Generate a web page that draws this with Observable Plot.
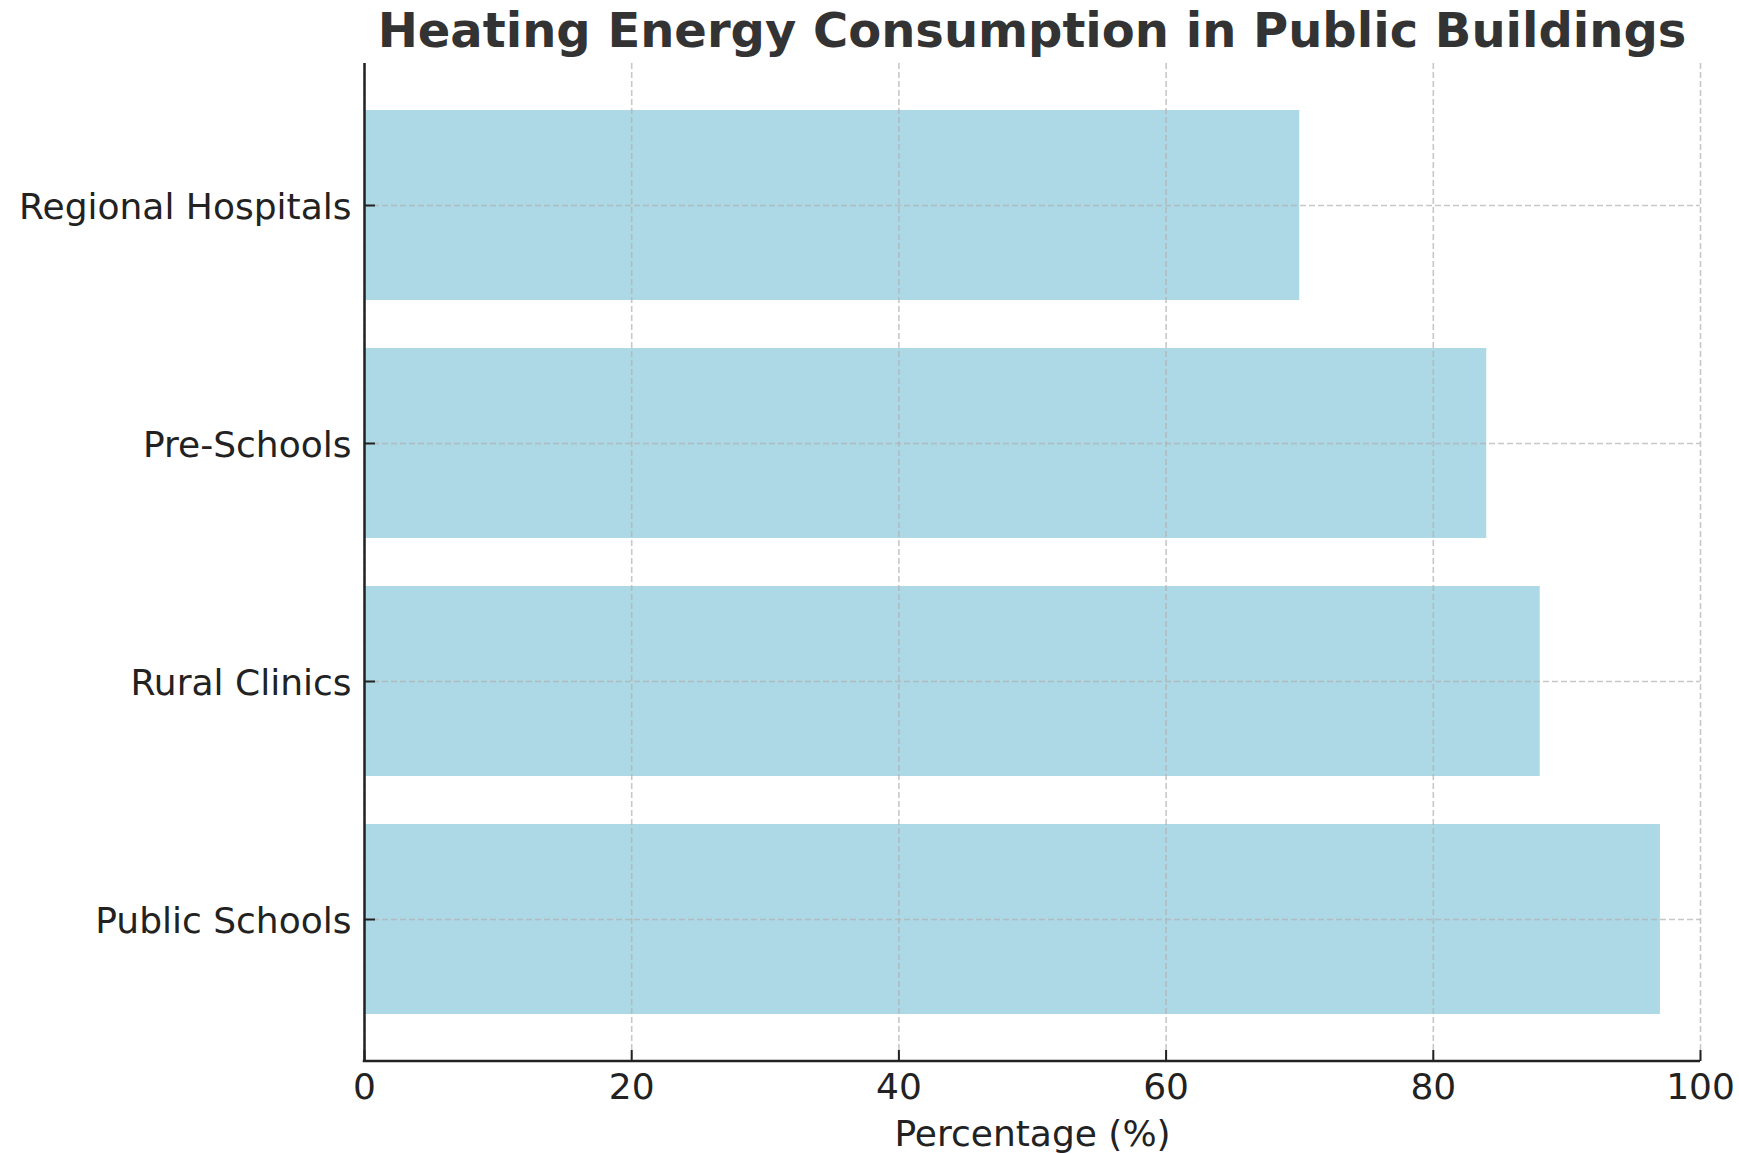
<!DOCTYPE html>
<html>
<head>
<meta charset="utf-8">
<script src="https://cdn.jsdelivr.net/npm/d3@7"></script>
<script src="https://cdn.jsdelivr.net/npm/@observablehq/plot@0.6"></script>
<style>
  html, body { margin: 0; padding: 0; background: #fff; }
  #title {
    margin-left: 364px; width: 1336px; height: 58px; box-sizing: border-box;
    padding-top: 6px; text-align: center;
    font-family: "DejaVu Sans", sans-serif; font-weight: bold; font-size: 48px;
    line-height: 1; color: #333; white-space: nowrap;
  }
  #chart svg { display: block; }
</style>
</head>
<body>
<div id="title">Heating Energy Consumption in Public Buildings</div>
<div id="chart"></div>
<script>
// Data (top-to-bottom order as displayed)
const categories = ["Regional Hospitals", "Pre-Schools", "Rural Clinics", "Public Schools"];
const values = [70, 84, 88, 97];
const xTicks = [0, 20, 40, 60, 80, 100];
const xLabel = "Percentage (%)";

const data = categories.map((c, i) => ({category: c, value: values[i]}));

const W = 1739, H = 1095;
const mL = 364, mR = 39, mT = 5, mB = 92;
const plotW = W - mL - mR, plotH = H - mT - mB;
const ink = "#222";
const gridStyle = {stroke: "#b0b0b0", strokeOpacity: 0.7, strokeWidth: 1.6, strokeDasharray: "6,3"};

const chart = Plot.plot({
  width: W, height: H,
  marginLeft: mL, marginRight: mR, marginTop: mT, marginBottom: mB,
  style: {fontFamily: "DejaVu Sans, sans-serif", color: ink, background: "#fff", overflow: "visible"},
  x: {domain: [0, 100], ticks: xTicks},
  y: {domain: categories, paddingInner: 0.2, paddingOuter: 0.19},
  marks: [
    Plot.barX(data, {x: "value", y: "category", fill: "#add8e6"}),
    Plot.gridX(xTicks, gridStyle),
    Plot.gridY(categories, gridStyle),
    // inward ticks
    Plot.tickX(xTicks, {x: d => d, stroke: ink, strokeWidth: 2, insetTop: plotH - 11}),
    Plot.tickY(categories, {y: d => d, stroke: ink, strokeWidth: 2, insetRight: plotW - 11}),
    // spines
    Plot.ruleX([0], {stroke: ink, strokeWidth: 2.5}),
    Plot.rect([0], {x1: 0, x2: 100, fill: ink, insetTop: plotH - 1.25, insetBottom: -1.25, insetLeft: -1.25}),
    // axes labels
    Plot.axisX(xTicks, {tickSize: 0, tickPadding: 12, fontSize: 36, label: null, fill: ink}),
    Plot.axisY(categories, {tickSize: 0, tickPadding: 13, fontSize: 36, label: null, fill: ink, dy: 2}),
    Plot.text([xLabel], {frameAnchor: "bottom", dy: 84, lineAnchor: "bottom", fontSize: 36, fill: ink})
  ]
});
document.getElementById("chart").appendChild(chart);
</script>
</body>
</html>
